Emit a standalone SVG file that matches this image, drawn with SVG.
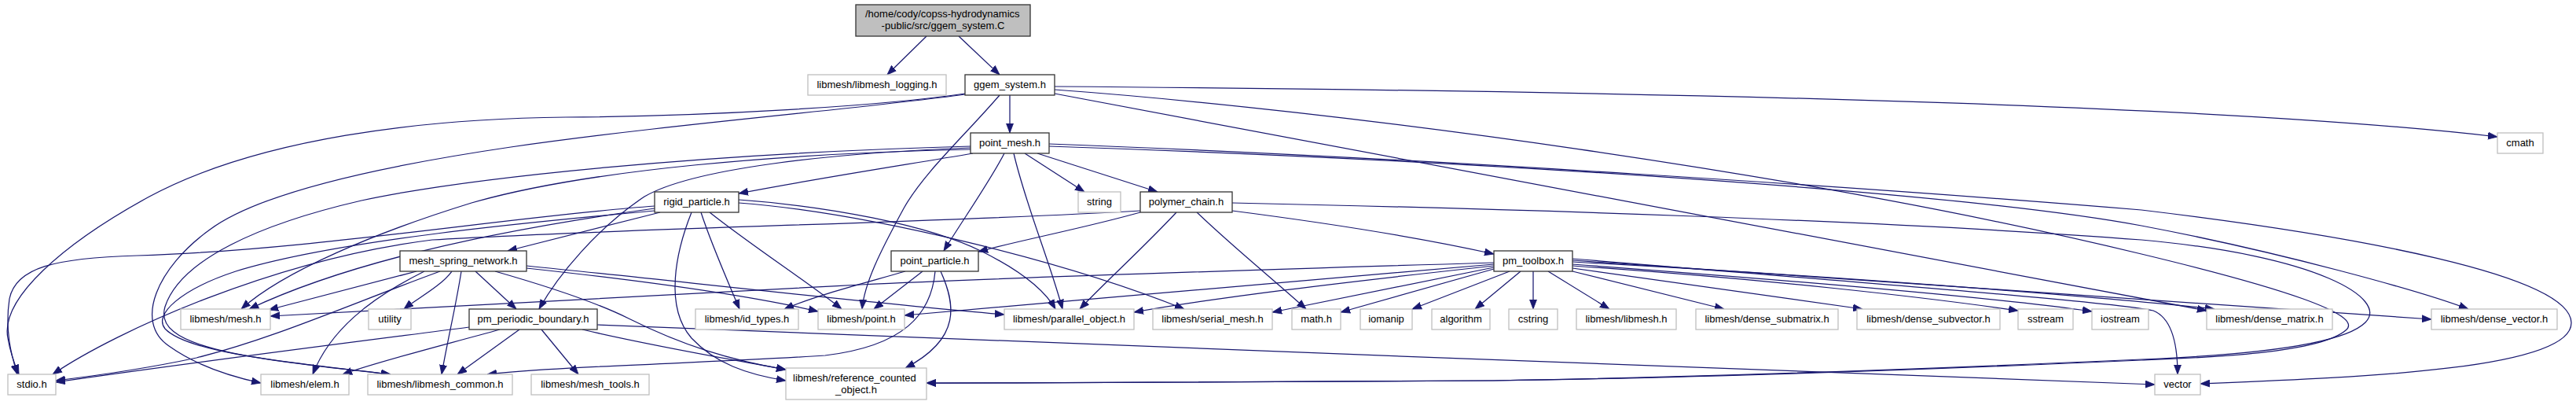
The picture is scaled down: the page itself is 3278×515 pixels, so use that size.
<svg xmlns="http://www.w3.org/2000/svg" width="3278" height="515" viewBox="0 0 3278 515">
<defs>
<style>
.bg{fill:#ffffff}
.lf{fill:#ffffff;stroke:#bfbfbf;stroke-width:1.3}
.dc{fill:#ffffff;stroke:#333333;stroke-width:1.3}
.rt{fill:#bfbfbf;stroke:#333333;stroke-width:1.3}
text{font-family:"Liberation Sans",Arial,Helvetica,sans-serif;font-size:13px;fill:#000000;text-anchor:middle}
.e{fill:none;stroke:#191970;stroke-width:1.25;marker-end:url(#arr)}
</style>
<marker id="arr" viewBox="0 0 12 10" refX="12" refY="5" markerWidth="12" markerHeight="10" markerUnits="userSpaceOnUse" orient="auto">
<path d="M0,0.5 L12,5 L0,9.5 z" fill="#191970" stroke="#191970" stroke-width="0.8"/>
</marker>
</defs>
<rect class="bg" x="0" y="0" width="3278" height="515"/>
<g id="edges">
<path class="e" d="M1179,46 L1129,95"/>
<path class="e" d="M1220,46 L1272,95"/>
<path class="e" d="M1228,119 C1120,135 900,148 720,149 C540,151 330,175 190,250 C80,310 0,380 10,430 C13,448 18,462 24,476"/>
<path class="e" d="M1228,120 C1100,138 850,158 650,187 C480,212 330,245 267,292 C200,340 170,410 215,440 C250,465 290,478 332,487"/>
<path class="e" d="M1285,121 L1285,169"/>
<path class="e" d="M1272,121 C1230,170 1175,220 1150,265 C1120,320 1100,360 1097,393"/>
<path class="e" d="M1342,110 C2000,115 2800,130 3178,174"/>
<path class="e" d="M1342,114 C1700,140 2300,220 2725,323 C2900,365 3010,400 2985,420 C2950,450 2800,455 2725,458 C2500,468 2200,480 1900,484 C1600,487 1400,487 1179,487"/>
<path class="e" d="M1342,119 L2808,395"/>
<path class="e" d="M1304,195 L1380,244"/>
<path class="e" d="M1320,195 L1473,244"/>
<path class="e" d="M1278,195 C1260,230 1225,280 1201,319"/>
<path class="e" d="M1290,195 C1305,260 1335,330 1352,393"/>
<path class="e" d="M1238,195 C1150,210 1050,225 940,246"/>
<path class="e" d="M1235,188 C1050,195 880,215 820,250 C760,290 710,350 686,393"/>
<path class="e" d="M1235,190 C1000,195 750,215 600,258 C480,295 360,345 307,393"/>
<path class="e" d="M1235,186 C900,195 600,225 460,255 C330,285 230,330 210,390 C195,440 300,455 497,476"/>
<path class="e" d="M1335,183 C1800,200 2400,240 2725,267 C3000,300 3270,350 3272,410 C3274,470 3000,480 2800,488"/>
<path class="e" d="M1335,186 C1900,205 2500,245 2725,287 C2900,320 3080,370 3141,393"/>
<path class="e" d="M1568,258 C1900,265 2400,280 2725,305 C2950,325 3040,380 3010,410 C2980,440 2850,452 2725,457 C2500,467 2200,479 1900,484 C1600,487 1400,487 1179,487"/>
<path class="e" d="M1568,268 C1700,285 1820,305 1901,323"/>
<path class="e" d="M1523,270 C1570,315 1620,355 1662,393"/>
<path class="e" d="M1497,270 C1450,320 1410,355 1374,393"/>
<path class="e" d="M1451,270 C1380,290 1300,305 1245,320"/>
<path class="e" d="M1451,268 C1200,283 800,290 550,305 C350,330 150,420 67,476"/>
<path class="e" d="M840,270 L646,319"/>
<path class="e" d="M833,262 C650,275 400,318 175,325 C70,328 20,340 12,380 C6,420 14,450 22,476"/>
<path class="e" d="M833,265 C650,290 450,330 317,393"/>
<path class="e" d="M833,268 C680,282 430,305 300,345 C230,368 195,400 210,418 C240,450 380,462 497,476"/>
<path class="e" d="M892,270 C905,310 925,355 941,393"/>
<path class="e" d="M903,270 C960,315 1030,360 1071,393"/>
<path class="e" d="M880,270 C860,320 845,390 880,430 C910,462 950,476 1000,484"/>
<path class="e" d="M940,254 C1050,262 1180,285 1250,320 C1300,345 1330,370 1343,393"/>
<path class="e" d="M940,258 C1100,270 1350,330 1507,393"/>
<path class="e" d="M530,345 L342,394"/>
<path class="e" d="M575,345 C560,365 530,380 514,393"/>
<path class="e" d="M560,345 C450,385 350,430 250,455 C180,470 120,478 71,484"/>
<path class="e" d="M540,345 C470,380 420,420 398,476"/>
<path class="e" d="M587,345 C580,390 570,430 562,476"/>
<path class="e" d="M605,345 L657,393"/>
<path class="e" d="M630,345 C700,365 760,385 800,405 C870,440 930,458 1000,470"/>
<path class="e" d="M670,341 C800,355 950,375 1041,396"/>
<path class="e" d="M670,338 C850,356 1100,385 1278,400"/>
<path class="e" d="M597,416 C450,435 250,460 71,486"/>
<path class="e" d="M636,419 C560,440 480,460 436,476"/>
<path class="e" d="M661,419 L582,476"/>
<path class="e" d="M689,419 L736,476"/>
<path class="e" d="M741,419 C830,440 920,455 1000,470"/>
<path class="e" d="M760,413 C1200,430 2200,470 2742,489"/>
<path class="e" d="M1174,345 L1112,393"/>
<path class="e" d="M1152,345 C1100,360 1040,375 998,393"/>
<path class="e" d="M1197,345 C1215,385 1225,430 1152,468"/>
<path class="e" d="M1190,345 C1185,400 1150,440 1050,452 C900,462 720,465 620,476"/>
<path class="e" d="M1901,334 C1700,340 1300,352 1095,362 C800,377 500,392 344,402"/>
<path class="e" d="M1901,336 C1600,360 1400,380 1151,401"/>
<path class="e" d="M1901,338 C1700,360 1550,378 1443,397"/>
<path class="e" d="M1901,340 L1619,397"/>
<path class="e" d="M1901,342 L1706,397"/>
<path class="e" d="M1921,345 L1797,393"/>
<path class="e" d="M1935,345 L1877,393"/>
<path class="e" d="M1951,345 L1951,393"/>
<path class="e" d="M1970,345 L2048,393"/>
<path class="e" d="M2001,345 L2194,393"/>
<path class="e" d="M2001,341 L2370,393"/>
<path class="e" d="M2001,338 C2250,355 2450,378 2568,395"/>
<path class="e" d="M2001,336 C2300,358 2550,380 2662,396"/>
<path class="e" d="M2001,333 C2400,355 2700,380 2818,393"/>
<path class="e" d="M2001,331 C2500,368 2900,395 3094,406"/>
<path class="e" d="M2001,329 C2400,362 2700,385 2740,395 C2765,405 2771,440 2771,476"/>
</g>
<g id="root"><rect class="rt" x="1089" y="6" width="222" height="40"/><text x="1101" y="22" style="text-anchor:start">/home/cody/copss-hydrodynamics</text><text x="1200" y="37">-public/src/ggem_system.C</text></g>
<g id="n_logging"><rect class="lf" x="1028" y="95" width="176" height="26"/><text x="1116" y="112">libmesh/libmesh_logging.h</text></g>
<g id="n_ggem"><rect class="dc" x="1228" y="95" width="114" height="26"/><text x="1285" y="112">ggem_system.h</text></g>
<g id="n_pointmesh"><rect class="dc" x="1235" y="169" width="100" height="26"/><text x="1285" y="186">point_mesh.h</text></g>
<g id="n_cmath"><rect class="lf" x="3178" y="169" width="58" height="26"/><text x="3207" y="186">cmath</text></g>
<g id="n_string"><rect class="lf" x="1372" y="244" width="54" height="26"/><text x="1399" y="261">string</text></g>
<g id="n_polymer"><rect class="dc" x="1451" y="244" width="117" height="26"/><text x="1509.5" y="261">polymer_chain.h</text></g>
<g id="n_rigid"><rect class="dc" x="833" y="244" width="107" height="26"/><text x="886.5" y="261">rigid_particle.h</text></g>
<g id="n_meshspring"><rect class="dc" x="509" y="319" width="161" height="26"/><text x="589.5" y="336">mesh_spring_network.h</text></g>
<g id="n_pointparticle"><rect class="dc" x="1134" y="319" width="111" height="26"/><text x="1189.5" y="336">point_particle.h</text></g>
<g id="n_toolbox"><rect class="dc" x="1901" y="319" width="100" height="26"/><text x="1951" y="336">pm_toolbox.h</text></g>
<g id="n_mesh"><rect class="lf" x="230" y="393" width="114" height="26"/><text x="287" y="410">libmesh/mesh.h</text></g>
<g id="n_utility"><rect class="lf" x="469" y="393" width="54" height="26"/><text x="496" y="410">utility</text></g>
<g id="n_periodic"><rect class="dc" x="597" y="393" width="163" height="26"/><text x="678.5" y="410">pm_periodic_boundary.h</text></g>
<g id="n_idtypes"><rect class="lf" x="885" y="393" width="131" height="26"/><text x="950.5" y="410">libmesh/id_types.h</text></g>
<g id="n_point"><rect class="lf" x="1041" y="393" width="110" height="26"/><text x="1096" y="410">libmesh/point.h</text></g>
<g id="n_parallel"><rect class="lf" x="1278" y="393" width="165" height="26"/><text x="1360.5" y="410">libmesh/parallel_object.h</text></g>
<g id="n_serial"><rect class="lf" x="1467" y="393" width="152" height="26"/><text x="1543" y="410">libmesh/serial_mesh.h</text></g>
<g id="n_math"><rect class="lf" x="1644" y="393" width="62" height="26"/><text x="1675" y="410">math.h</text></g>
<g id="n_iomanip"><rect class="lf" x="1731" y="393" width="66" height="26"/><text x="1764" y="410">iomanip</text></g>
<g id="n_algorithm"><rect class="lf" x="1822" y="393" width="74" height="26"/><text x="1859" y="410">algorithm</text></g>
<g id="n_cstring"><rect class="lf" x="1920" y="393" width="62" height="26"/><text x="1951" y="410">cstring</text></g>
<g id="n_libmesh"><rect class="lf" x="2006" y="393" width="127" height="26"/><text x="2069.5" y="410">libmesh/libmesh.h</text></g>
<g id="n_submatrix"><rect class="lf" x="2158" y="393" width="181" height="26"/><text x="2248.5" y="410">libmesh/dense_submatrix.h</text></g>
<g id="n_subvector"><rect class="lf" x="2363" y="393" width="182" height="26"/><text x="2454" y="410">libmesh/dense_subvector.h</text></g>
<g id="n_sstream"><rect class="lf" x="2568" y="393" width="70" height="26"/><text x="2603" y="410">sstream</text></g>
<g id="n_iostream"><rect class="lf" x="2662" y="393" width="72" height="26"/><text x="2698" y="410">iostream</text></g>
<g id="n_densematrix"><rect class="lf" x="2808" y="393" width="160" height="26"/><text x="2888" y="410">libmesh/dense_matrix.h</text></g>
<g id="n_densevector"><rect class="lf" x="3094" y="393" width="160" height="26"/><text x="3174" y="410">libmesh/dense_vector.h</text></g>
<g id="n_stdio"><rect class="lf" x="10" y="476" width="61" height="26"/><text x="40.5" y="493">stdio.h</text></g>
<g id="n_elem"><rect class="lf" x="332" y="476" width="112" height="26"/><text x="388" y="493">libmesh/elem.h</text></g>
<g id="n_common"><rect class="lf" x="468" y="476" width="184" height="26"/><text x="560" y="493">libmesh/libmesh_common.h</text></g>
<g id="n_meshtools"><rect class="lf" x="676" y="476" width="150" height="26"/><text x="751" y="493">libmesh/mesh_tools.h</text></g>
<g id="n_refcounted"><rect class="lf" x="1000" y="468" width="179" height="40"/><text x="1009" y="485" style="text-anchor:start">libmesh/reference_counted</text><text x="1089.5" y="500">_object.h</text></g>
<g id="n_vector"><rect class="lf" x="2742" y="476" width="58" height="26"/><text x="2771" y="493">vector</text></g>
</svg>
